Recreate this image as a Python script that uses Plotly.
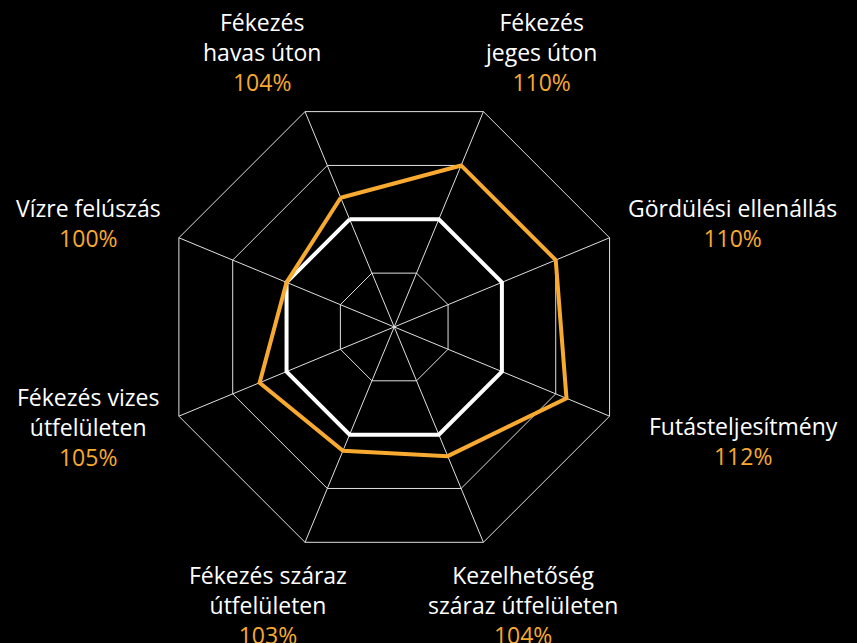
import plotly.graph_objects as go

categories = [
    "Fékezés<br>havas úton",
    "Fékezés<br>jeges úton",
    "Gördülési ellenállás",
    "Futásteljesítmény",
    "Kezelhetőség<br>száraz útfelületen",
    "Fékezés száraz<br>útfelületen",
    "Fékezés vizes<br>útfelületen",
    "Vízre felúszás",
]
values = [104, 110, 110, 112, 104, 103, 105, 100]
reference = [100] * len(categories)

label_x = [0.3057, 0.631, 0.855, 0.867, 0.610, 0.3127, 0.1027, 0.1027]
label_y = [0.919, 0.919, 0.653, 0.3134, 0.059, 0.059, 0.336, 0.653]

ORANGE = "#F7A930"
FONT = "Open Sans"

theta_names = [c.replace("<br>", " ") for c in categories]

fig = go.Figure()
fig.add_trace(go.Scatterpolar(
    r=reference + [reference[0]], theta=theta_names + [theta_names[0]],
    mode="lines", line=dict(color="white", width=4), hoverinfo="skip",
))
fig.add_trace(go.Scatterpolar(
    r=values + [values[0]], theta=theta_names + [theta_names[0]],
    mode="lines", line=dict(color=ORANGE, width=4), hoverinfo="skip",
))

annotations = []
for c, v, x, y in zip(categories, values, label_x, label_y):
    annotations.append(dict(
        x=x, y=y, xref="paper", yref="paper", xanchor="center", yanchor="middle",
        text=f"{c}<br><span style='color:{ORANGE}'>{v}%</span>",
        showarrow=False, align="center",
        font=dict(family=FONT, size=23, color="white"),
    ))

fig.update_layout(
    width=857, height=643,
    paper_bgcolor="black", plot_bgcolor="black",
    margin=dict(l=0, r=0, t=0, b=0),
    showlegend=False,
    annotations=annotations,
    polar=dict(
        bgcolor="black",
        gridshape="linear",
        domain=dict(x=[0.188, 0.732], y=[0.129, 0.854]),
        radialaxis=dict(range=[80, 120], dtick=10, tick0=80, showticklabels=False,
                        ticks="", showline=False, gridcolor="#e0e0e0", gridwidth=1),
        angularaxis=dict(rotation=112.5, direction="clockwise", showticklabels=False,
                         ticks="", showline=True, linecolor="#e0e0e0", linewidth=1,
                         gridcolor="#e0e0e0", gridwidth=1),
    ),
)

fig.write_html("out.html", config={"displayModeBar": False},
               post_script="document.body.style.margin='0';document.body.style.background='black';")
